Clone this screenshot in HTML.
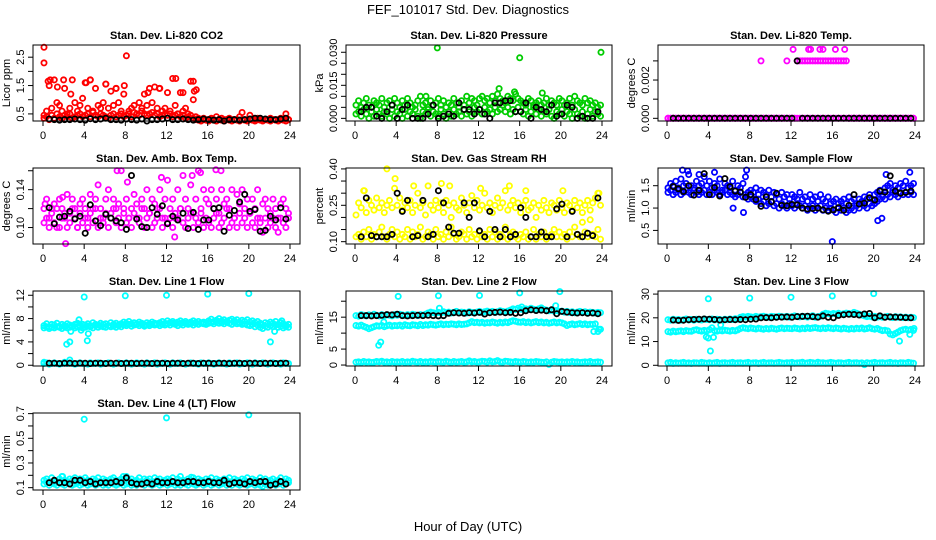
<!DOCTYPE html>
<html><head><meta charset="utf-8">
<style>
html,body{margin:0;padding:0;background:#fff;}
svg{display:block;font-family:"Liberation Sans",Arial,sans-serif;}
</style></head>
<body>
<svg id="chart" width="936" height="540" viewBox="0 0 936 540" xmlns="http://www.w3.org/2000/svg">
<rect x="0" y="0" width="936" height="540" fill="#fff"/>
<text x="468" y="14" font-size="13" text-anchor="middle">FEF_101017  Std. Dev. Diagnostics</text>
<text x="468" y="531" font-size="13" text-anchor="middle">Hour of Day (UTC)</text>
<g id="panels"></g>
</svg>
<script>
// ---------- data ----------
const xTicks = [0,4,8,12,16,20,24];
const co2Red = [.45,.6,1.5,.7,1.7,.9,.8,.6,1.4,.5,.7,1.7,.9,.6,.8,1.05, 1.6,.7,1.7,.6,1.4,.8,.7,.9,1.55,.7,1.3,.8,1.4,.9,.6,1.2, 2.55,.6,.7,.8,.5,.9,.7,1.2,.8,1.4,.9,1.45,.7,1.4,.6,.7, 1.25,.6,1.75,.8,.5,1.25,.6,.7,.5,1.65,1.0,.4,.35,.3,.35,.3, .3,.35,.3,.4,.3,.35,.3,.3,.35,.3,.3,.3,.4,.55,.3,.3, .45,.3,.3,.35,.3,.3,.3,.3,.35,.3,.3,.3,.35,.3,.5,.3];
const co2RedLow = [.35,.4,.3,.45,.35,.5,.4,.35,.45,.4,.5,.35,.4,.45,.5,.4, .45,.5,.4,.55,.45,.4,.5,.45,.4,.35,.45,.5,.4,.45,.5,.4, .45,.5,.4,.55,.5,.45,.6,.5,.45,.5,.55,.45,.5,.4,.45,.5, .45,.5,.4,.45,.5,.4,.45,.35,.4,.45,.35,.3,.28,.25,.3,.28, .25,.3,.28,.25,.3,.28,.25,.3,.28,.25,.3,.28,.25,.3,.28,.25, .3,.28,.25,.3,.28,.25,.3,.28,.25,.3,.28,.25,.3,.28,.25,.3];
const co2Black = [.32,.3,.28,.3,.3,.32,.3,.28,.33,.3,.32,.35,.3,.3,.28,.32,.3,.28,.32,.25,.3,.3,.32,.35,.3,.3,.32,.3,.28,.3,.32,.3,.28,.3,.25,.3,.3,.28,.3,.32,.35,.35,.32,.3,.3,.32,.35];
const co2OutX = [0.1,0.1,0.5,0.7,1.4,2.0,2.7,4.2,4.6,6.1,7.1,7.9,10.2,11.3,12.9,13.6,14.6,14.7,14.9];
const co2OutY = [2.85,2.3,1.65,1.7,1.45,1.7,1.2,1.6,1.7,1.55,1.4,1.5,1.25,1.4,1.75,1.25,1.65,1.3,1.35];

const presGreen = [.006,.008,.005,.007,.009,.006,.005,.008,.007,.006,.009,.005,.007,.008,.006,.009, .007,.005,.008,.006,.009,.007,.005,.006,.008,.010,.006,.007,.005,.008,.006,.007, .009,.006,.008,.005,.007,.006,.009,.007,.005,.008,.006,.010,.007,.009,.008,.006, .009,.010,.008,.009,.007,.010,.008,.011,.009,.008,.007,.010,.009,.008,.011,.009, .008,.007,.006,.009,.008,.006,.007,.008,.006,.007,.009,.006,.008,.007,.006,.009, .008,.006,.007,.009,.006,.010,.008,.007,.006,.009,.007,.008,.006,.007,.005,.006];
const presGreenLow = [.002,.003,.001,.004,.002,.000,.003,.001,.004,.002,.001,.003,.002,.000,.004,.001, .003,.002,.000,.004,.001,.003,.002,.004,.001,.000,.003,.002,.004,.001,.003,.002, .001,.004,.002,.000,.003,.001,.004,.002,.003,.001,.004,.002,.003,.001,.005,.003, .004,.002,.005,.003,.004,.002,.005,.003,.004,.006,.003,.005,.002,.004,.003,.005, .003,.002,.004,.001,.003,.005,.002,.004,.001,.003,.002,.004,.001,.000,.003,.002, .004,.001,.003,.002,.000,.004,.002,.001,.003,.000,.002,.004,.001,.003,.002,.001];
const presBlack = [.003,.005,.005,.001,.000,.003,.006,.000,.004,.006,.000,.000,.000,.002,.006,.000,.001,.002,.001,.007,.004,.004,.002,.004,.002,.000,.007,.007,.008,.008,.003,.003,.007,.000,.005,.004,.003,.006,.001,.002,.006,.005,.000,.001,.000,.000,.003];
const presOutX = [8.0,16.0,23.9,14.0,15.5,18.2,6.9];
const presOutY = [.032,.0275,.030,.0135,.012,.0115,.010];

const tempMag = [0,0,0,0,0,0,0,0,0,0,0,0,0,0,0,0, 0,0,0,0,0,0,0,0,0,0,0,0,0,0,0,0, 0,0,0,0,.003,0,0,0,0,0,0,0,0,0,.003,0, 0,0,.003,.003,.003,.003,.003,.003,.003,.003,.003,.003,.003,.003,.003,.003, .003,.003,.003,.003,.003,.003,0,0,0,0,0,0,0,0,0,0, 0,0,0,0,0,0,0,0,0,0,0,0,0,0,0,0];
const tempMagLow = [0,0,0,0,0,0,0,0,0,0,0,0,0,0,0,0, 0,0,0,0,0,0,0,0,0,0,0,0,0,0,0,0, 0,0,0,0,0,0,0,0,0,0,0,0,0,0,0,0, 0,0,0,0,0,0,0,0,0,0,0,0,0,0,0,0, 0,0,0,0,0,0,0,0,0,0,0,0,0,0,0,0, 0,0,0,0,0,0,0,0,0,0,0,0,0,0,0,0];
const tempBlack = [0,0,0,0,0,0,0,0,0,0,0,0,0,0,0,0,0,0,0,0,0,0,0,0,.003,0,0,0,0,0,0,0,0,0,0,0,0,0,0,0,0,0,0,0,0,0,0];
const tempOutX = [12.2,13.7,13.9,14.8,15.1,16.3,17.2];
const tempOutY = [.0036,.0036,.0036,.0036,.0036,.0036,.0036];

const ambMag = [.12,.13,.11,.12,.125,.10,.13,.12,.11,.135,.115,.13,.12,.10,.125,.13, .12,.11,.135,.12,.13,.145,.12,.11,.13,.14,.115,.13,.12,.125,.16,.12, .13,.11,.12,.135,.125,.11,.13,.12,.14,.115,.13,.125,.12,.14,.11,.13, .15,.12,.13,.11,.14,.12,.155,.13,.12,.145,.115,.13,.16,.12,.14,.13, .125,.14,.12,.13,.115,.14,.125,.13,.12,.14,.11,.135,.125,.14,.12,.13, .115,.13,.12,.14,.11,.125,.13,.12,.115,.13,.12,.11,.125,.13,.12,.115];
const ambMagLow = [.105,.11,.10,.115,.105,.12,.10,.11,.115,.10,.105,.12,.11,.10,.115,.105, .11,.10,.115,.105,.12,.10,.11,.105,.115,.10,.11,.12,.105,.11,.10,.115, .105,.11,.10,.115,.11,.105,.12,.10,.11,.115,.10,.105,.11,.12,.10,.11, .105,.11,.10,.115,.11,.12,.105,.10,.11,.115,.10,.11,.105,.115,.10,.11, .105,.10,.11,.115,.10,.105,.11,.12,.10,.105,.11,.10,.115,.105,.11,.10, .115,.105,.10,.11,.105,.095,.11,.10,.105,.11,.10,.095,.11,.105,.10,.11];
const ambBlack = [.121,.104,.111,.112,.117,.109,.112,.094,.124,.107,.102,.114,.110,.107,.105,.098,.155,.109,.101,.100,.121,.114,.123,.104,.112,.108,.115,.099,.116,.098,.108,.108,.120,.121,.096,.113,.118,.127,.135,.117,.119,.096,.097,.112,.108,.121,.109];
const ambOutX = [2.2,12.8,7.2,16.8,15.3,17.3,14.5,11.5,8.2,0.2,1.9];
const ambOutY = [.083,.090,.160,.161,.158,.160,.155,.153,.148,.125,.132];

const gasYel = [.21,.26,.24,.31,.22,.27,.25,.23,.28,.24,.26,.22,.25,.27,.24,.32, .25,.28,.23,.26,.24,.27,.22,.25,.30,.24,.26,.21,.33,.25,.23,.27, .24,.26,.22,.27,.25,.20,.26,.24,.23,.28,.25,.22,.26,.29,.24,.27, .23,.25,.30,.24,.26,.22,.25,.28,.24,.26,.31,.23,.25,.27,.24,.26, .22,.25,.27,.23,.24,.26,.20,.25,.23,.27,.24,.22,.26,.25,.23,.27, .24,.22,.26,.25,.23,.27,.24,.26,.22,.25,.27,.23,.26,.28,.30,.25];
const gasYelLow = [.12,.13,.11,.14,.12,.15,.11,.13,.12,.14,.16,.12,.11,.13,.15,.12, .14,.11,.13,.12,.15,.11,.14,.12,.13,.16,.11,.12,.14,.13,.11,.15, .12,.13,.11,.14,.12,.16,.13,.11,.12,.14,.13,.11,.15,.12,.13,.11, .14,.12,.13,.11,.15,.12,.14,.11,.13,.12,.16,.11,.13,.14,.12,.11, .13,.12,.14,.11,.12,.15,.11,.13,.12,.14,.11,.12,.13,.15,.12,.14, .12,.13,.11,.14,.12,.16,.13,.12,.18,.14,.12,.19,.13,.12,.15,.11];
const gasBlack = [.12,.28,.125,.12,.12,.12,.13,.30,.225,.27,.12,.125,.27,.12,.13,.31,.26,.16,.135,.135,.26,.20,.26,.145,.12,.225,.15,.12,.15,.12,.13,.24,.20,.12,.12,.14,.12,.12,.235,.255,.12,.225,.13,.12,.135,.125,.28];
const gasOutX = [3.1,3.9,8.4,9.2,12.2,15.0,20.2,16.6,0.9,5.7,23.7];
const gasOutY = [.40,.36,.34,.33,.32,.33,.31,.31,.31,.33,.30];

const flowBlue = [1.45,1.55,1.5,1.6,1.45,1.65,1.5,1.55,1.75,1.5,1.45,1.6,1.5,1.55,1.7,1.5, 1.6,1.45,1.55,1.5,1.65,1.4,1.55,1.5,1.45,1.6,1.4,1.5,1.45,1.55,1.7,1.35, 1.4,1.35,1.45,1.3,1.4,1.35,1.3,1.4,1.25,1.35,1.3,1.2,1.35,1.25,1.3,1.2, 1.3,1.25,1.2,1.35,1.2,1.25,1.15,1.3,1.2,1.25,1.15,1.3,1.2,1.15,1.25,1.1, 1.15,1.2,1.1,1.15,1.2,1.1,1.25,1.15,1.2,1.1,1.2,1.15,1.25,1.2,1.3,1.2, 1.3,1.35,1.4,1.3,1.45,1.5,1.55,1.4,1.5,1.45,1.55,1.5,1.6,1.45,1.5,1.55];
const flowBlueLow = [1.35,1.4,1.3,1.35,1.4,1.3,1.35,1.4,1.35,1.3,1.4,1.35,1.3,1.35,1.4,1.3, 1.35,1.3,1.4,1.35,1.3,1.35,1.4,1.3,1.35,1.3,1.25,1.3,1.35,1.25,1.3,1.2, 1.25,1.2,1.15,1.2,1.1,1.15,1.05,1.1,1.15,1.05,1.1,1.0,1.1,1.05,1.0,1.1, 1.05,1.0,1.1,1.05,1.0,1.05,0.95,1.0,1.05,0.95,1.0,1.05,0.95,1.0,0.95,1.0, 0.95,0.9,1.0,0.95,1.0,0.9,0.95,1.0,0.95,1.05,1.0,1.1,1.05,1.0,1.1,1.05, 1.1,1.15,1.2,1.25,1.2,1.3,1.25,1.35,1.3,1.25,1.35,1.3,1.35,1.3,1.35,1.3];
const flowBlack = [1.48,1.43,1.37,1.50,1.29,1.40,1.77,1.30,1.46,1.27,1.66,1.48,1.38,1.36,1.24,1.30,1.19,1.04,1.25,1.14,1.33,1.06,1.05,1.08,1.07,1.00,0.98,0.99,1.00,0.96,0.93,0.96,1.01,0.95,1.06,1.30,1.09,1.11,1.23,1.18,1.38,1.36,1.72,1.38,1.33,1.35,1.38];
const flowOutX = [16.0,20.4,20.8,6.4,7.4,1.5,7.7,23.5,21.2,2.0,3.1,4.6];
const flowOutY = [0.25,0.72,0.77,1.0,0.9,1.85,1.85,1.8,1.75,1.83,1.75,1.8];

const l1Upper = [6.8,7.1,6.6,7.0,6.9,7.2,6.7,7.0,6.8,7.1,6.9,6.6,7.0,7.2,6.8,7.0, 6.9,7.1,6.8,7.3,7.0,6.9,7.2,7.0,7.1,6.8,7.3,7.0,7.2,6.9,7.1,7.4, 7.2,7.5,7.1,7.3,7.0,7.4,7.2,6.9,7.3,7.1,7.4,7.2,7.0,7.3,7.5,7.2, 7.6,7.3,7.5,7.2,7.4,7.6,7.3,7.5,7.2,7.4,7.6,7.3,7.5,7.2,7.4,7.3, 7.6,7.9,7.5,7.7,8.0,7.6,7.8,7.5,7.7,7.9,7.6,7.8,7.4,7.7,7.5,7.8, 7.4,7.6,7.3,7.5,7.2,6.9,7.3,7.1,7.4,7.2,7.5,7.0,7.3,7.1,6.9,7.0];
const l1Mid = [6.4,6.6,6.3,6.5,6.4,6.6,6.5,6.3,6.6,6.4,6.5,6.7,6.4,6.6,6.5,6.4, 6.5,6.7,6.6,6.4,6.8,6.5,6.7,6.6,6.5,6.8,6.6,6.7,6.5,6.8,6.6,6.9, 6.8,7.0,6.7,6.9,7.1,6.8,7.0,6.7,6.9,6.8,7.0,6.9,7.1,6.8,7.0,6.9, 7.1,6.9,7.2,7.0,6.8,7.1,6.9,7.2,7.0,7.1,6.9,7.2,7.0,7.3,7.1,7.0, 7.2,7.3,7.1,7.4,7.2,7.3,7.1,7.4,7.2,7.0,7.3,7.1,7.2,7.0,7.1,6.9, 6.8,7.0,6.6,6.9,6.5,6.3,6.7,6.5,6.8,6.6,6.9,6.5,6.7,6.4,6.6,6.5];
const l1Low = [.3,.4,.2,.3,.4,.3,.2,.3,.5,.3,.4,.3,.2,.3,.4,.3, .3,.2,.4,.3,.3,.4,.2,.3,.3,.4,.3,.2,.3,.4,.3,.3, .4,.3,.2,.3,.4,.3,.3,.2,.4,.3,.3,.4,.2,.3,.3,.4, .3,.2,.4,.3,.3,.4,.3,.2,.3,.4,.3,.3,.2,.4,.3,.3, .4,.3,.2,.3,.4,.3,.3,.2,.4,.3,.3,.4,.2,.3,.3,.4, .3,.2,.4,.3,.3,.4,.3,.2,.3,.4,.3,.3,.2,.4,.3,.3];
const l1Black = [.35,.35,.3,.35,.35,.3,.35,.35,.3,.35,.35,.3,.35,.35,.3,.35,.35,.3,.35,.35,.3,.35,.35,.3,.35,.35,.3,.35,.35,.3,.35,.35,.3,.35,.35,.3,.35,.35,.3,.35,.35,.3,.35,.35,.3,.35,.35];
const l1OutX = [4.0,8.0,12.0,16.0,20.0,2.3,2.6,2.7,3.5,3.7,4.3,4.4,22.1,22.5,23.2,23.6,2.6,0.1];
const l1OutY = [11.7,11.9,12.0,12.2,12.3,3.6,4.0,5.8,7.8,6.0,4.2,5.4,4.0,5.8,7.6,6.8,0.9,0.5];

const l2Upper = [15.5,15.3,15.8,15.6,15.4,15.7,15.5,15.9,15.6,15.4,15.8,15.5,15.7,15.6,15.4,15.8, 15.6,15.9,15.7,15.5,15.8,15.6,15.9,15.7,15.5,15.8,15.6,15.9,16.3,16.6,16.4,16.2, 16.5,16.3,16.7,16.4,16.6,16.3,16.5,16.8,16.4,16.6,16.5,16.3,16.7,16.5,16.4,16.6, 16.8,16.5,16.7,16.9,16.6,16.8,16.5,16.7,17.0,16.8,16.6,16.9,17.2,17.6,17.4,17.8, 17.5,17.3,17.6,17.4,17.8,17.5,17.3,17.6,17.9,17.4,17.2,17.0,17.3,16.9,17.1,16.8, 16.9,16.6,16.8,16.5,16.7,16.4,16.6,16.8,16.5,16.7,16.4,16.6,16.5,16.3,16.5,16.4];
const l2Mid = [12.4,12.2,12.5,12.1,11.8,11.4,11.7,12.0,12.3,12.2,12.4,12.0,12.3,12.5,12.2,12.4, 12.3,12.5,12.2,12.6,12.4,12.3,12.6,12.5,12.3,12.7,12.4,12.6,12.5,12.8,12.6,12.5, 12.7,12.9,12.6,12.8,12.7,12.9,12.8,12.6,12.9,12.7,12.8,12.9,13.2,13.6,13.3,13.4, 13.2,13.4,13.1,13.3,13.2,13.5,13.3,13.1,13.4,13.2,13.5,13.3,13.6,13.9,13.7,13.5, 13.4,13.6,13.3,13.5,13.2,13.4,13.6,13.3,13.5,13.2,13.4,13.1,13.3,13.5,13.2,13.4, 13.2,12.9,12.4,12.7,12.9,12.6,12.8,13.0,12.7,12.9,12.6,12.8,12.7,12.9,10.5,11.2];
const l2Low = [.9,1.0,.8,1.1,.9,1.0,.8,.9,1.1,1.0,1.2,.9,1.0,.8,1.1,.9, 1.0,.9,1.1,.8,1.0,.9,1.2,1.0,.9,1.1,.8,1.0,.9,1.1,1.0,.9, 1.1,1.0,.9,1.2,1.0,.8,1.1,.9,1.0,1.1,.9,1.0,1.3,1.0,1.1,.9, 1.0,1.2,1.1,.9,1.3,1.0,1.1,1.4,1.0,.9,1.2,1.1,1.0,.9,1.1,1.0, .9,1.1,1.0,.8,1.0,.9,1.1,1.0,.9,.8,1.0,.2,.9,1.1,1.0,.9, 1.0,.8,1.0,.9,1.1,.9,1.0,.8,.9,1.0,.9,1.1,.8,.9,1.0,.9];
const l2Black = [15.5,15.5,15.4,15.5,15.6,15.8,15.7,15.9,15.5,15.4,15.5,15.6,15.5,15.6,15.5,15.4,15.5,16.2,16.4,16.3,16.2,16.4,16.3,16.5,16.0,16.4,16.5,16.6,16.4,16.5,16.2,16.4,17.0,17.3,17.1,17.2,17.0,17.3,16.1,16.8,16.6,16.4,16.3,16.4,16.2,16.3,16.1];
const l2OutX = [4.2,8.1,12.1,16.0,19.9,2.3,2.5,2.8,8.2,16.2,19.5,23.2,23.7];
const l2OutY = [21.5,21.7,21.8,22.6,23.0,6.2,7.2,13.5,17.8,18.2,18.6,10.5,11.2];

const l3Upper = [19.2,19.0,19.4,19.1,19.3,19.0,19.2,19.5,19.1,19.3,19.0,19.4,19.2,19.1,19.5,19.3, 19.2,19.5,19.1,19.4,19.3,19.0,19.4,19.2,19.5,19.3,19.6,19.4,20.2,20.5,20.3,20.6, 20.4,20.2,20.6,20.3,20.5,20.7,20.4,20.2,20.6,20.5,20.3,20.7,20.5,20.4,20.6,20.3, 20.5,20.8,20.6,20.4,20.7,20.5,20.3,20.6,20.9,20.2,20.5,20.7,21.5,21.9,21.7,21.5, 21.8,21.6,21.9,21.5,21.7,22.0,21.8,21.6,22.3,21.9,21.5,21.2,20.8,20.5,20.7,20.4, 20.6,20.3,20.5,20.2,20.4,20.6,20.3,20.1,20.5,20.2,20.4,20.1,20.3,20.0,20.2,20.1];
const l3Mid = [14.2,14.0,14.4,14.1,14.3,14.5,14.2,14.6,14.4,14.3,14.8,15.0,14.6,14.4,14.7,14.5, 15.0,15.8,14.6,14.4,14.7,14.5,14.8,14.6,14.4,14.7,14.5,14.9,15.5,15.8,15.6,15.4, 15.7,15.5,15.3,15.6,15.4,15.2,15.5,15.3,15.6,15.4,15.2,15.5,15.7,15.4,15.6,15.5, 15.4,15.7,15.5,15.3,15.6,15.4,15.8,15.5,15.7,15.9,15.6,15.4,15.7,15.5,15.8,15.6, 15.4,15.7,15.5,15.3,15.6,15.4,15.2,15.5,15.3,15.6,15.4,15.7,15.3,15.5,15.8,15.4, 15.2,15.5,15.0,14.6,14.8,14.5,13.2,12.8,13.4,14.0,14.6,15.0,15.2,14.8,15.1,14.7];
const l3Low = [1.0,1.2,.8,1.1,.9,1.0,1.2,.9,1.0,.8,1.1,1.0,.9,1.2,1.0,.9, 1.1,.9,1.0,1.2,.8,1.0,1.1,.9,1.0,1.2,.9,1.0,1.1,.9,1.0,1.2, .9,1.0,1.1,.8,1.0,1.2,.9,1.0,1.1,.9,1.0,1.2,1.0,.9,1.1,1.0, 1.2,.9,1.0,1.1,1.3,.9,1.0,1.2,1.1,.9,1.3,1.0,1.1,.9,1.0,1.2, 1.0,.9,1.1,1.0,.8,1.0,1.2,.9,1.0,1.1,.9,1.0,.3,1.1,.9,1.0, 1.2,.9,1.0,1.1,.9,1.0,1.2,.9,1.0,.8,1.1,1.0,.9,1.2,1.0,.9];
const l3Black = [19.1,18.9,19.0,19.2,19.3,19.4,19.5,19.4,19.3,19.1,19.2,19.3,19.2,19.3,19.2,19.4,19.5,20.0,20.1,20.0,20.2,20.3,20.4,20.2,20.5,20.6,20.7,20.5,20.3,20.8,20.2,20.0,21.0,21.3,21.5,21.4,21.2,21.6,21.8,20.0,20.8,20.2,20.4,20.3,20.2,20.1,20.0];
const l3OutX = [4.0,8.0,12.0,16.0,20.0,4.0,4.2,4.5,5.2,22.5,23.5,23.9,3.8];
const l3OutY = [28.0,28.3,28.7,29.2,30.2,11.5,6.0,11.8,17.0,10.2,13.0,15.5,12.0];

const l4Upper = [.16,.17,.15,.18,.16,.15,.17,.19,.16,.15,.17,.16,.18,.15,.17,.16, .18,.16,.15,.17,.16,.18,.15,.17,.16,.15,.17,.18,.16,.15,.17,.16, .19,.16,.17,.15,.16,.18,.15,.17,.16,.17,.15,.18,.16,.17,.15,.16, .17,.16,.18,.15,.17,.19,.16,.15,.17,.16,.18,.15,.17,.16,.15,.17, .16,.18,.15,.17,.16,.15,.17,.16,.18,.15,.17,.16,.15,.17,.16,.18, .15,.17,.16,.15,.18,.16,.17,.15,.16,.17,.15,.16,.18,.15,.17,.16];
const l4Low = [.13,.14,.12,.14,.13,.12,.14,.13,.12,.14,.13,.12,.13,.14,.12,.13, .14,.12,.13,.14,.12,.13,.14,.12,.13,.12,.14,.13,.12,.13,.14,.12, .13,.14,.12,.13,.12,.14,.13,.12,.14,.13,.12,.13,.14,.12,.13,.14, .12,.13,.14,.12,.13,.12,.14,.13,.12,.14,.13,.12,.13,.14,.12,.13, .14,.12,.13,.14,.12,.13,.14,.12,.13,.12,.14,.13,.12,.13,.14,.12, .13,.14,.12,.13,.12,.11,.13,.12,.14,.13,.12,.13,.14,.12,.13,.14];
const l4Black = [.14,.16,.14,.14,.13,.16,.16,.14,.15,.13,.14,.14,.14,.15,.14,.18,.14,.13,.13,.14,.13,.15,.14,.14,.15,.14,.14,.15,.15,.14,.14,.15,.14,.14,.16,.13,.14,.14,.13,.15,.14,.15,.15,.12,.13,.15,.13];
const l4OutX = [4.0,12.0,20.0,1.9,14.4,7.8];
const l4OutY = [.655,.665,.69,.19,.185,.19];

// ---------- layout ----------
const cols = [{l:33,r:300,x0:43,x1:290},{l:346,r:612,x0:355,x1:602},{l:658,r:924,x0:667,x1:915}];
const rows = [{t:45,b:121},{t:168,b:244},{t:291,b:366},{t:413,b:490}];

const panels = [
 {name:'co2',title:'Stan. Dev. Li-820 CO2',ylab:'Licor ppm',c:0,r:0,ymin:0.25,ymax:2.93,ticks:[0.5,1,1.5,2,2.5],labels:[0.5,1.5,2.5],col:'#ff0000',series:[co2Red,co2RedLow],black:co2Black,ox:co2OutX,oy:co2OutY},
 {name:'pressure',title:'Stan. Dev. Li-820 Pressure',ylab:'kPa',c:1,r:0,ymin:-0.0012,ymax:0.0333,ticks:[0,.005,.01,.015,.02,.025,.03],labels:[0,.015,.03],fmt:3,col:'#00cc00',series:[presGreen,presGreenLow],black:presBlack,ox:presOutX,oy:presOutY},
 {name:'temp',title:'Stan. Dev. Li-820 Temp.',ylab:'degrees C',c:2,r:0,ymin:-0.00014,ymax:0.00383,ticks:[0,.001,.002,.003],labels:[0,.002],fmt:3,col:'#ff00ff',series:[tempMagLow,tempMag],black:tempBlack,ox:tempOutX,oy:tempOutY},
 {name:'amb-box',title:'Stan. Dev. Amb. Box Temp.',ylab:'degrees C',c:0,r:1,ymin:0.0826,ymax:0.1629,ticks:[.1,.12,.14,.16],labels:[.1,.14],fmt:2,col:'#ff00ff',series:[ambMag,ambMagLow],black:ambBlack,ox:ambOutX,oy:ambOutY},
 {name:'gas-rh',title:'Stan. Dev. Gas Stream RH',ylab:'percent',c:1,r:1,ymin:0.0904,ymax:0.4038,ticks:[.1,.15,.2,.25,.3,.35,.4],labels:[.1,.25,.4],fmt:2,col:'#ffff00',series:[gasYel,gasYelLow],black:gasBlack,ox:gasOutX,oy:gasOutY},
 {name:'sample-flow',title:'Stan. Dev. Sample Flow',ylab:'ml/min',c:2,r:1,ymin:0.196,ymax:1.896,ticks:[.5,1,1.5],labels:[.5,1,1.5],fmt:1,col:'#0000ff',series:[flowBlue,flowBlueLow],black:flowBlack,ox:flowOutX,oy:flowOutY},
 {name:'line1-flow',title:'Stan. Dev. Line 1 Flow',ylab:'ml/min',c:0,r:2,ymin:-0.13,ymax:12.73,ticks:[0,2,4,6,8,10,12],labels:[0,4,8,12],col:'#00ffff',series:[l1Upper,l1Mid,l1Low],black:l1Black,ox:l1OutX,oy:l1OutY},
 {name:'line2-flow',title:'Stan. Dev. Line 2 Flow',ylab:'ml/min',c:1,r:2,ymin:-0.3,ymax:23.2,ticks:[0,5,10,15,20],labels:[0,5,15],col:'#00ffff',series:[l2Upper,l2Mid,l2Low],black:l2Black,ox:l2OutX,oy:l2OutY},
 {name:'line3-flow',title:'Stan. Dev. Line 3 Flow',ylab:'ml/min',c:2,r:2,ymin:-0.3,ymax:31.3,ticks:[0,10,20,30],labels:[0,10,20,30],col:'#00ffff',series:[l3Upper,l3Mid,l3Low],black:l3Black,ox:l3OutX,oy:l3OutY},
 {name:'line4-flow',title:'Stan. Dev. Line 4 (LT) Flow',ylab:'ml/min',c:0,r:3,ymin:0.081,ymax:0.705,ticks:[.1,.2,.3,.4,.5,.6,.7],labels:[.1,.3,.5,.7],fmt:1,col:'#00ffff',series:[l4Upper,l4Low],black:l4Black,ox:l4OutX,oy:l4OutY}
];

const NS='http://www.w3.org/2000/svg';
function mk(tag, attrs, parent){const e=document.createElementNS(NS,tag);for(const k in attrs)e.setAttribute(k,attrs[k]);parent.appendChild(e);return e;}
const root=document.getElementById('panels');

panels.forEach(p=>{
  const C=cols[p.c], R=rows[p.r];
  const xs=h=>C.x0+(h/24)*(C.x1-C.x0);
  const ys=v=>R.b-(v-p.ymin)/(p.ymax-p.ymin)*(R.b-R.t);
  const g=mk('g',{},root);
  
  
  const t=mk('text',{x:(C.l+C.r)/2,y:R.t-6,'font-size':11,'font-weight':'bold','text-anchor':'middle'},g);
  t.textContent=p.title;
  
  
  const pts=mk('g',{fill:'none','stroke-width':1.8},g);
  
  
  p.series.forEach(arr=>{
    arr.forEach((v,i)=>{
      const c=mk('circle',{cx:xs(0.1+i*0.25).toFixed(1),cy:ys(v).toFixed(1),r:2.6,stroke:p.col},pts);
      
      
    });
  });
  p.ox.forEach((h,i)=>{
    const c=mk('circle',{cx:xs(h).toFixed(1),cy:ys(p.oy[i]).toFixed(1),r:2.6,stroke:p.col},pts);
    
    
  });
  p.black.forEach((v,i)=>{
    const c=mk('circle',{cx:xs(0.6+i*0.5).toFixed(1),cy:ys(v).toFixed(1),r:2.6,stroke:'#000'},pts);
    
    
  });
  const box=mk('rect',{x:C.l,y:R.t,width:C.r-C.l,height:R.b-R.t,fill:'none',stroke:'#000','stroke-width':1},g);
  
  
  const xa=mk('g',{},g);
  
  
  mk('line',{x1:xs(0),x2:xs(24),y1:R.b,y2:R.b,stroke:'#000'},xa);
  xTicks.forEach(h=>{
    mk('line',{x1:xs(h),x2:xs(h),y1:R.b,y2:R.b+5,stroke:'#000'},xa);
    const tl=mk('text',{x:xs(h),y:R.b+18,'font-size':11,'text-anchor':'middle'},xa);
    tl.textContent=h;
    
    
  });
  const ya=mk('g',{},g);
  
  
  mk('line',{x1:C.l,x2:C.l,y1:ys(p.ticks[0]),y2:ys(p.ticks[p.ticks.length-1]),stroke:'#000'},ya);
  p.ticks.forEach(v=>{mk('line',{x1:C.l-5,x2:C.l,y1:ys(v),y2:ys(v),stroke:'#000'},ya);});
  p.labels.forEach(v=>{
    const y=ys(v), x=C.l-9;
    const tl=mk('text',{x:x,y:y,'font-size':11,'text-anchor':'middle',transform:`rotate(-90 ${x} ${y})`},ya);
    tl.textContent=p.fmt!==undefined?v.toFixed(p.fmt):String(v);
    
    
  });
  const yx=C.l-23, yy=(R.t+R.b)/2;
  const yl=mk('text',{x:yx,y:yy,'font-size':11,'text-anchor':'middle',transform:`rotate(-90 ${yx} ${yy})`},g);
  yl.textContent=p.ylab;
  
  
});
</script>
</body></html>
